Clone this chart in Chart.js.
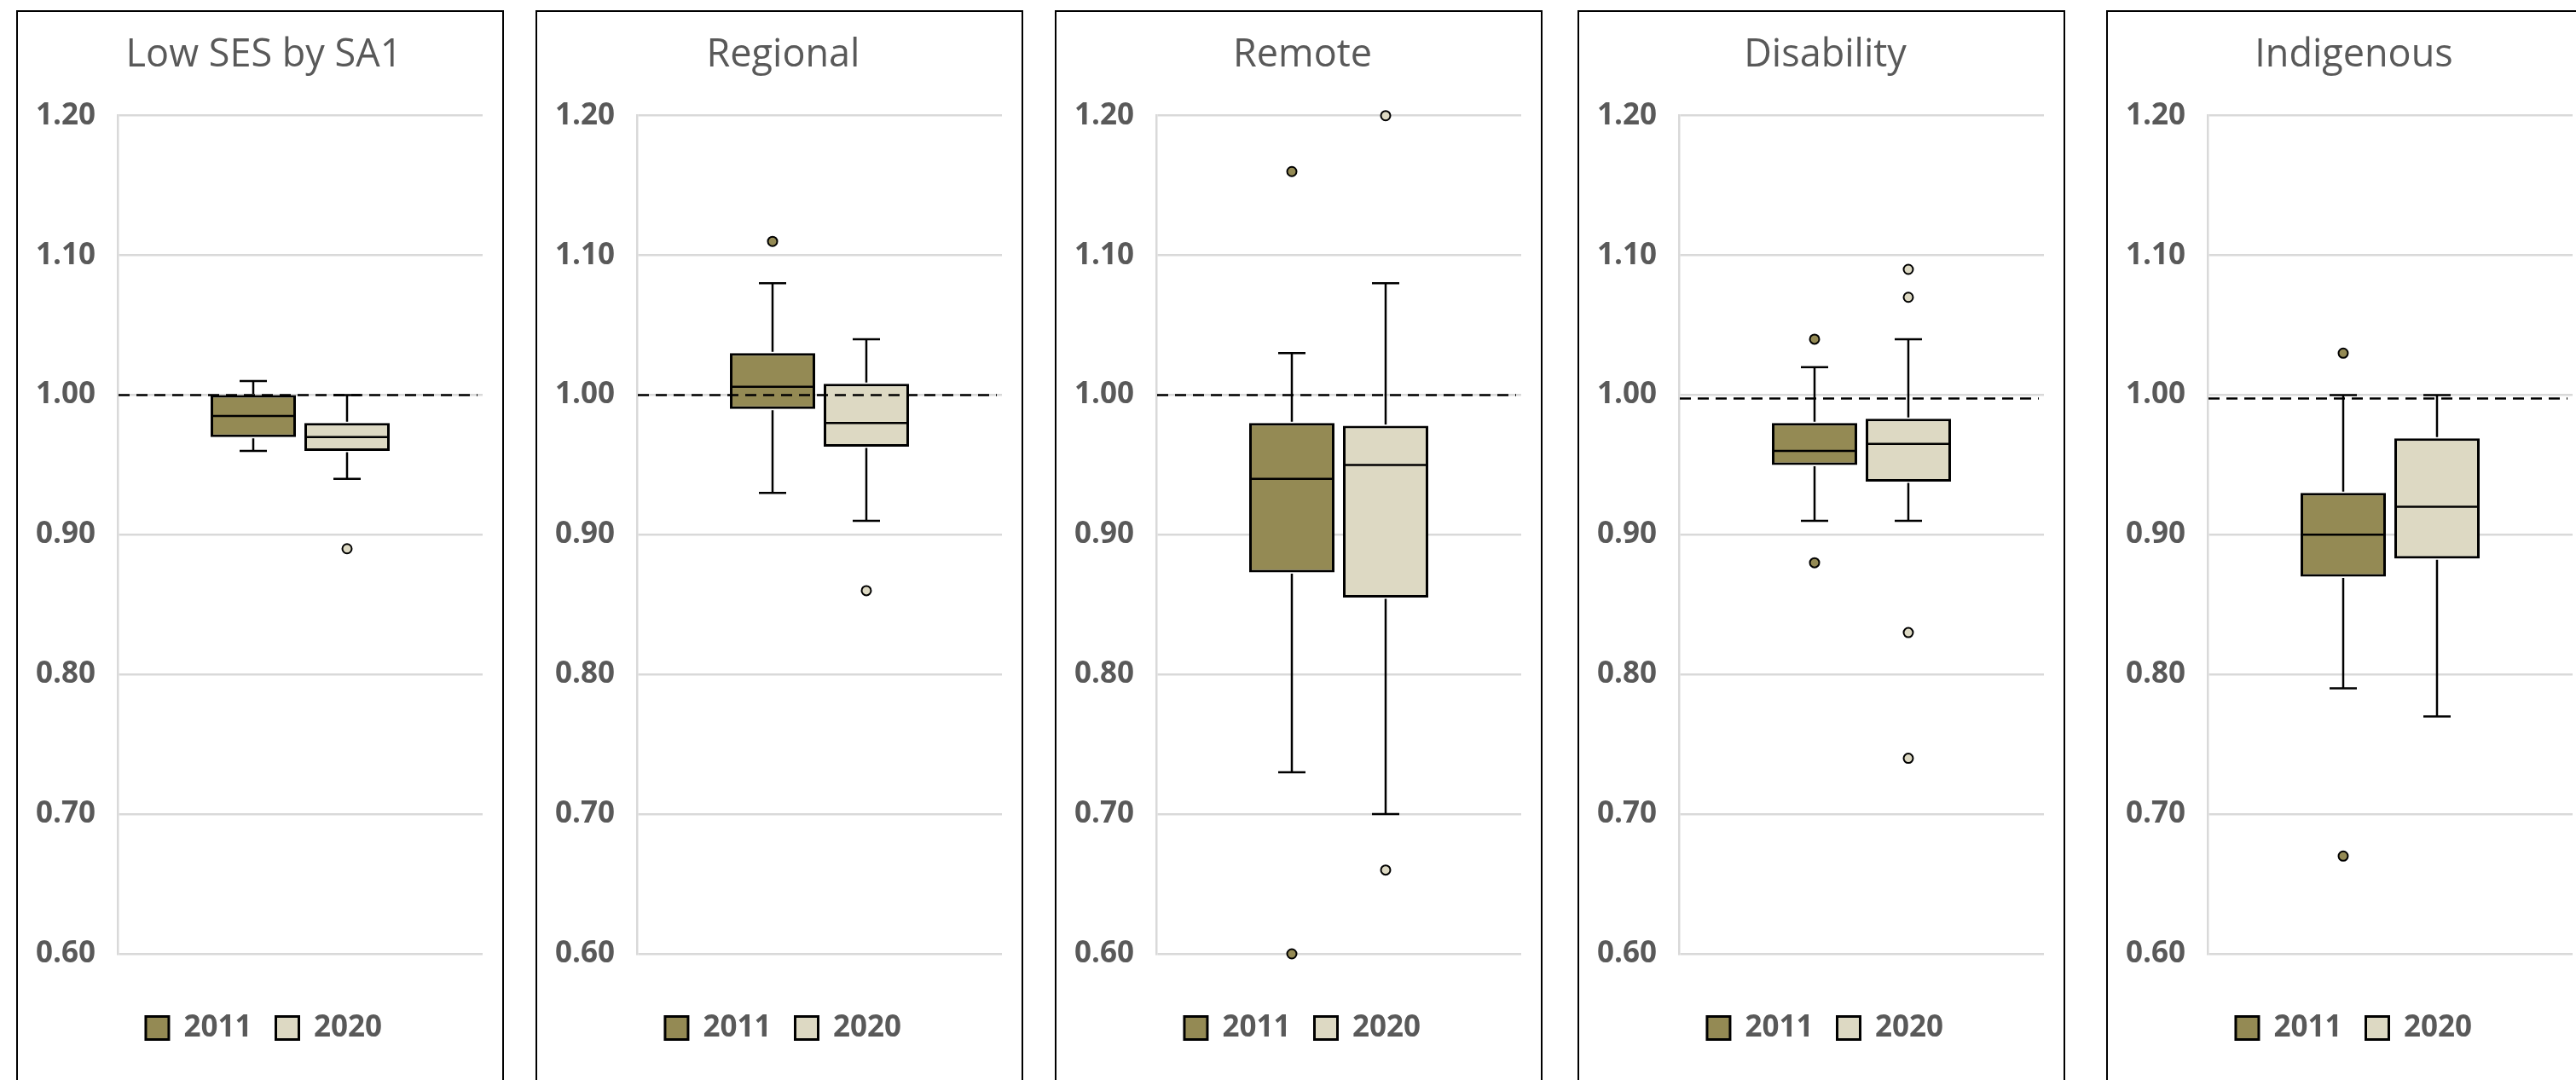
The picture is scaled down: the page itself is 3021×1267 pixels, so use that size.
<!DOCTYPE html>
<html><head><meta charset="utf-8">
<script src="https://cdn.jsdelivr.net/npm/chart.js@4.4.1/dist/chart.umd.min.js"></script>
<style>
html,body{margin:0;padding:0;background:#fff;width:3021px;height:1267px;overflow:hidden;position:relative}
.panel{position:absolute;top:12px;height:1300px;width:572px;border:2px solid #000;box-sizing:border-box}
canvas{position:absolute;top:0}
</style></head><body>
<script>
// ---- data ----
const panelTitles = ['Low SES by SA1', 'Regional', 'Remote', 'Disability', 'Indigenous'];
const years = ['2011', '2020'];
const yTickMin = 0.6, yTickMax = 1.2, yTickStep = 0.1;

// 2011 box statistics per panel
const low2011    = [0.96, 0.93, 0.73, 0.91, 0.79];
const q1_2011    = [0.97, 0.99, 0.873, 0.95, 0.87];
const med2011    = [0.985, 1.006, 0.94, 0.96, 0.90];
const q3_2011    = [1.00, 1.03, 0.98, 0.98, 0.93];
const high2011   = [1.01, 1.08, 1.03, 1.02, 1.00];
const out2011    = [[], [1.11], [1.16, 0.60], [1.04, 0.88], [1.03, 0.67]];

// 2020 box statistics per panel
const low2020    = [0.94, 0.91, 0.70, 0.91, 0.77];
const q1_2020    = [0.96, 0.963, 0.855, 0.938, 0.883];
const med2020    = [0.97, 0.98, 0.95, 0.965, 0.92];
const q3_2020    = [0.98, 1.008, 0.978, 0.983, 0.969];
const high2020   = [1.00, 1.04, 1.08, 1.04, 1.00];
const out2020    = [[0.89], [0.86], [1.20, 0.66], [1.09, 1.07, 0.83, 0.74], []];

// dashed reference line per panel
const refLine = [1.00, 1.00, 1.00, 0.9975, 0.9975];

// ---- layout / style ----
const panelLeft = [20, 629, 1238, 1851, 2471];
const OLIVE = '#948A54', TAN = '#DDD9C3', TEXT = '#595959', GRID = '#D9D9D9';

Chart.defaults.font.family = "'Open Sans', 'Noto Sans', sans-serif";
Chart.defaults.color = TEXT;

const boxPlotPlugin = {
  id: 'boxPlot',
  afterLayout(chart) {
    // let the y tick labels extend into the left padding without being clipped
    chart.scales.y._computeLabelArea = () => undefined;
  },
  afterDatasetsDraw(chart, args, opts) {
    const ctx = chart.ctx, ys = chart.scales.y, area = chart.chartArea;
    ctx.save();
    ctx.strokeStyle = '#000';
    chart.data.datasets.forEach((ds, di) => {
      const el = chart.getDatasetMeta(di).data[0];
      const s = ds.stats;
      const x = el.x, hw = el.width / 2;
      const yq1 = ys.getPixelForValue(ds.data[0][0]);
      const yq3 = ys.getPixelForValue(ds.data[0][1]);
      const yMin = ys.getPixelForValue(s.min), yMax = ys.getPixelForValue(s.max);
      ctx.lineWidth = 2.5;
      ctx.beginPath();
      if (yMax < yq3 - 1) { ctx.moveTo(x, yq3 - 1.5); ctx.lineTo(x, yMax); }
      ctx.moveTo(x - 16, yMax); ctx.lineTo(x + 16, yMax);
      if (yMin > yq1 + 1) { ctx.moveTo(x, yq1 + 1.5); ctx.lineTo(x, yMin); }
      ctx.moveTo(x - 16, yMin); ctx.lineTo(x + 16, yMin);
      ctx.stroke();
      const yMed = ys.getPixelForValue(s.med);
      ctx.beginPath(); ctx.moveTo(x - hw + 3, yMed); ctx.lineTo(x + hw - 3, yMed); ctx.stroke();
    });
    const yr = ys.getPixelForValue(opts.value);
    ctx.setLineDash([13, 8]); ctx.lineWidth = 2.5;
    ctx.beginPath(); ctx.moveTo(area.left + 1, yr); ctx.lineTo(area.right - 6, yr); ctx.stroke();
    ctx.setLineDash([]);
    chart.data.datasets.forEach((ds, di) => {
      const el = chart.getDatasetMeta(di).data[0];
      ds.stats.out.forEach(v => {
        ctx.beginPath();
        ctx.arc(el.x, ys.getPixelForValue(v), 5.5, 0, 2 * Math.PI);
        ctx.fillStyle = ds.backgroundColor; ctx.fill();
        ctx.lineWidth = 2; ctx.stroke();
      });
    });
    ctx.restore();
  }
};

panelTitles.forEach((title, i) => {
  const div = document.createElement('div');
  div.className = 'panel';
  div.style.left = (panelLeft[i] - 1) + 'px';
  document.body.appendChild(div);
  const cv = document.createElement('canvas');
  cv.width = 570; cv.height = 1267;
  cv.style.left = panelLeft[i] + 'px';
  cv.style.width = '570px'; cv.style.height = '1267px';
  document.body.appendChild(cv);

  const mk = (label, color, q1, q3, lo, med, hi, out) => ({
    label, data: [[q1[i], q3[i]]], backgroundColor: color, borderColor: '#000',
    borderWidth: 3, borderSkipped: false, categoryPercentage: 0.514, barPercentage: 0.909,
    stats: { min: lo[i], med: med[i], max: hi[i], out: out[i] }
  });

  new Chart(cv, {
    type: 'bar',
    data: {
      labels: [title],
      datasets: [
        mk(years[0], OLIVE, q1_2011, q3_2011, low2011, med2011, high2011, out2011),
        mk(years[1], TAN, q1_2020, q3_2020, low2020, med2020, high2020, out2020)
      ]
    },
    options: {
      responsive: false, animation: false, devicePixelRatio: 1,
      layout: { padding: { top: 0, left: 33, right: 24, bottom: 33.5 } },
      scales: {
        x: {
          grid: { display: false }, border: { display: false }, ticks: { display: false },
          afterFit(s) { s.height = 41.5; }
        },
        y: {
          min: yTickMin, max: yTickMax,
          ticks: { stepSize: yTickStep, padding: 26, color: TEXT, font: { size: 35, weight: 'bold' },
                   callback: v => Number(v).toFixed(2) },
          grid: { color: GRID, lineWidth: 2.5, drawTicks: false },
          border: { color: GRID, width: 2.5 },
          afterFit(s) { s.width = 85; }
        }
      },
      plugins: {
        title: { display: true, text: title, color: TEXT, font: { size: 45, weight: 'normal' },
                 padding: { top: 38.5, bottom: 43.2 } },
        legend: { position: 'bottom',
                  labels: { boxWidth: 27, boxHeight: 27, padding: 28, color: TEXT,
                            font: { size: 35, weight: 'bold' } } },
        tooltip: { enabled: false },
        boxPlot: { value: refLine[i] }
      }
    },
    plugins: [boxPlotPlugin]
  });
});
</script>
</body></html>
